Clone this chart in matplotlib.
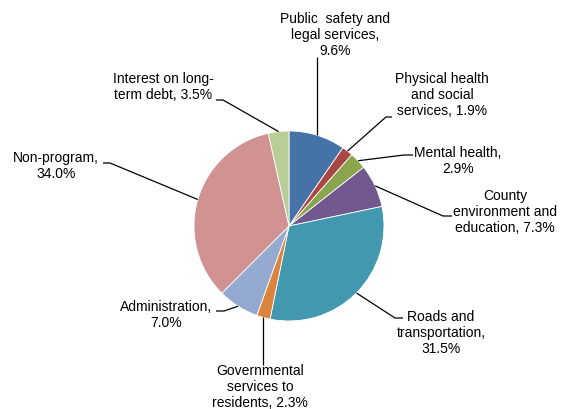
import matplotlib.pyplot as plt
import numpy as np

# === Data ===
categories = [
    "Public  safety and\nlegal services,\n9.6%",
    "Physical health\nand social\nservices, 1.9%",
    "Mental health,\n2.9%",
    "County\nenvironment and\neducation, 7.3%",
    "Roads and\ntransportation,\n31.5%",
    "Governmental\nservices to\nresidents, 2.3%",
    "Administration,\n7.0%",
    "Non-program,\n34.0%",
    "Interest on long-\nterm debt, 3.5%",
]
shares = [9.6, 1.9, 2.9, 7.3, 31.5, 2.3, 7.0, 34.0, 3.5]
colors = ["#4572A7", "#AA4643", "#89A54E", "#71588F", "#4198AF",
          "#DB843D", "#93A9CF", "#D19392", "#B9CD96"]

# === Layout (pixel coords, y measured from top) ===
W, H = 569, 409
CENTER = (289, 226)
RADIUS = 95
label_pos = [(335, 35), (442, 95), (458, 161), (505, 212), (441, 333),
             (260, 387), (166, 315), (56, 166), (163, 87)]
# leader start (at the text) and elbow; None -> straight line
leader_start = [(None, 57), (392, 117), (413, 155), (452, 216), (403, 318),
                (None, 365), (216, 311), (103, 163), (216, 100)]
leader_elbow = [None, (386, 117), (404, 155), (443, 216), (395, 318),
                None, (224, 311), (110, 163), (223, 100)]


def px(x, y):
    return x, H - y


plt.rcParams['font.family'] = ['Liberation Sans', 'DejaVu Sans']

fig = plt.figure(figsize=(W / 100, H / 100), dpi=100)
ax = fig.add_axes([0, 0, 1, 1])
ax.set_xlim(0, W)
ax.set_ylim(0, H)
ax.set_aspect("equal")
ax.axis("off")

wedges, _ = ax.pie(shares, colors=colors, startangle=90, counterclock=False,
                   center=px(*CENTER), radius=RADIUS,
                   wedgeprops=dict(edgecolor="white", linewidth=0.6))
ax.set_xlim(0, W)
ax.set_ylim(0, H)

cx, cy = px(*CENTER)
for w, lab, pos, st, el in zip(wedges, categories, label_pos, leader_start, leader_elbow):
    mid = np.deg2rad((w.theta1 + w.theta2) / 2)
    ex = cx + RADIUS * np.cos(mid)
    ey = cy + RADIUS * np.sin(mid)
    sx = ex if st[0] is None else st[0]
    pts = [px(sx, st[1])]
    if el is not None:
        pts.append(px(*el))
    pts.append((ex, ey))
    xs, ys = zip(*pts)
    ax.plot(xs, ys, color="black", lw=0.9, solid_capstyle="butt")
    ax.text(*px(*pos), lab, ha="center", va="center", fontsize=10,
            linespacing=1.15, color="black")

fig.savefig("out.png", dpi=100)
